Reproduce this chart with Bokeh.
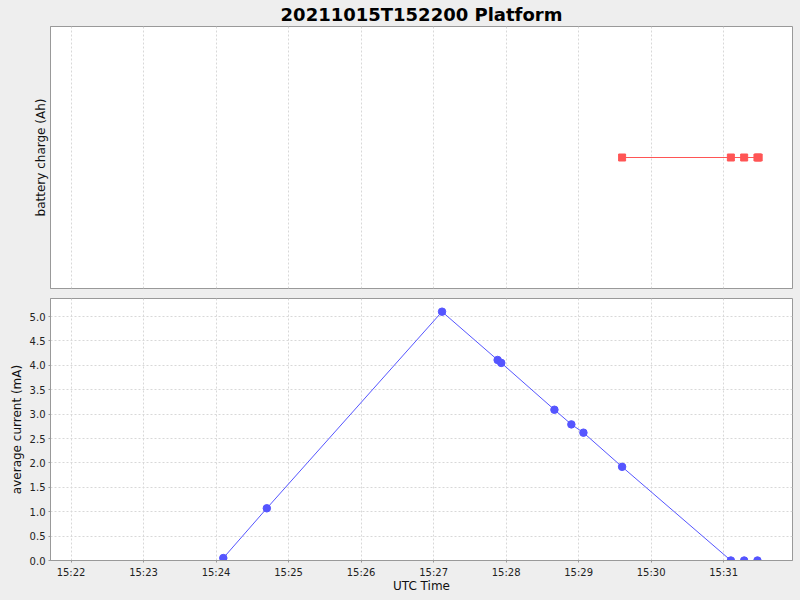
import pandas as pd
from bokeh.plotting import figure
from bokeh.layouts import column
from bokeh.models import Range1d, FixedTicker, DatetimeTickFormatter, NumeralTickFormatter
from bokeh.embed import file_html
from bokeh.resources import INLINE

DAY = "2021-10-15 "
title_text = "20211015T152200 Platform"

# battery charge series (constant value)
batt_times = ["15:29:36", "15:31:06", "15:31:17", "15:31:28", "15:31:29"]
batt_values = [0.0, 0.0, 0.0, 0.0, 0.0]

# average current series (mA)
cur_times = ["15:24:06", "15:24:42", "15:27:07", "15:27:53", "15:27:56",
             "15:28:40", "15:28:54", "15:29:04", "15:29:36",
             "15:31:06", "15:31:17", "15:31:28"]
cur_values = [0.05, 1.07, 5.10, 4.11, 4.05, 3.09, 2.79, 2.62, 1.92, 0.0, 0.0, 0.0]

tick_minutes = ["15:22", "15:23", "15:24", "15:25", "15:26", "15:27",
                "15:28", "15:29", "15:30", "15:31"]
cur_ticks = [0.0, 0.5, 1.0, 1.5, 2.0, 2.5, 3.0, 3.5, 4.0, 4.5, 5.0]
x_start, x_end = "15:21:43", "15:31:57"
y_cur_range = (0.0, 5.37)
y_batt_range = (-1.0, 1.0)

def ts(s):
    return pd.Timestamp(DAY + s)

bt = [ts(t) for t in batt_times]
ct = [ts(t) for t in cur_times]
ticks_ms = [ts(m + ":00").value / 1e6 for m in tick_minutes]

x_range = Range1d(ts(x_start), ts(x_end))
FONT = "DejaVu Sans"
BG = "#eeeeee"
GRID = "#d8d8d8"
AX = "#999999"

def style(p):
    p.border_fill_color = BG
    p.background_fill_color = "white"
    p.outline_line_color = AX
    for ax in p.axis:
        ax.axis_line_color = AX
        ax.major_tick_line_color = AX
        ax.major_tick_out = 2
        ax.major_tick_in = 0
        ax.minor_tick_line_color = None
        ax.major_label_text_font = FONT
        ax.major_label_text_font_size = "10px"
        ax.major_label_text_color = "#222222"
        ax.major_label_standoff = 3
        ax.axis_label_text_font = FONT
        ax.axis_label_text_font_size = "12px"
        ax.axis_label_text_font_style = "normal"
        ax.axis_label_text_color = "#111111"
        ax.axis_label_standoff = 3
    for g in p.grid:
        g.grid_line_color = GRID
        g.grid_line_dash = "2 2"
        g.grid_line_width = 1

p1 = figure(width=800, height=293, x_axis_type="datetime", x_range=x_range,
            y_range=Range1d(*y_batt_range), output_backend="svg",
            toolbar_location=None, min_border_left=50, min_border_right=8,
            min_border_top=26, min_border_bottom=5)
p1.title.text = title_text
p1.title.align = "center"
p1.title.text_font = FONT
p1.title.text_font_size = "18px"
p1.title.text_font_style = "bold"
p1.title.text_color = "black"
p1.title.standoff = 3
p1.title.offset = 0
p1.line(bt, batt_values, line_color="#ff5555", line_width=1)
p1.scatter(bt, batt_values, marker="square", size=7, fill_color="#ff5555",
           line_color="#ff5555")
p1.yaxis.axis_label = "battery charge (Ah)"
p1.yaxis.ticker = FixedTicker(ticks=[])
p1.xaxis.ticker = FixedTicker(ticks=ticks_ms)
p1.xaxis.visible = False
style(p1)
p1.xgrid.ticker = FixedTicker(ticks=ticks_ms)

p2 = figure(width=800, height=307, x_axis_type="datetime", x_range=x_range,
            y_range=Range1d(*y_cur_range), output_backend="svg",
            toolbar_location=None, min_border_left=50, min_border_right=8,
            min_border_top=5, min_border_bottom=40)
p2.line(ct, cur_values, line_color="#5555ff", line_width=1)
p2.scatter(ct, cur_values, marker="circle", size=7.5, fill_color="#5555ff",
           line_color="#5555ff")
p2.yaxis.axis_label = "average current (mA)"
p2.yaxis.ticker = FixedTicker(ticks=cur_ticks)
p2.xaxis.axis_label = "UTC Time"
p2.xaxis.ticker = FixedTicker(ticks=ticks_ms)
p2.xaxis.formatter = DatetimeTickFormatter(minutes="%H:%M", minsec="%H:%M",
                                           hourmin="%H:%M", hours="%H:%M",
                                           seconds="%H:%M")
p2.yaxis.formatter = NumeralTickFormatter(format="0.0")
style(p2)
p2.xaxis.major_label_standoff = 4
p2.xaxis.axis_label_standoff = -2

layout = column(p1, p2, spacing=0)
layout.styles = {"background-color": BG}

html = file_html(layout, INLINE, title=title_text)
open("out.html", "w").write(html)
